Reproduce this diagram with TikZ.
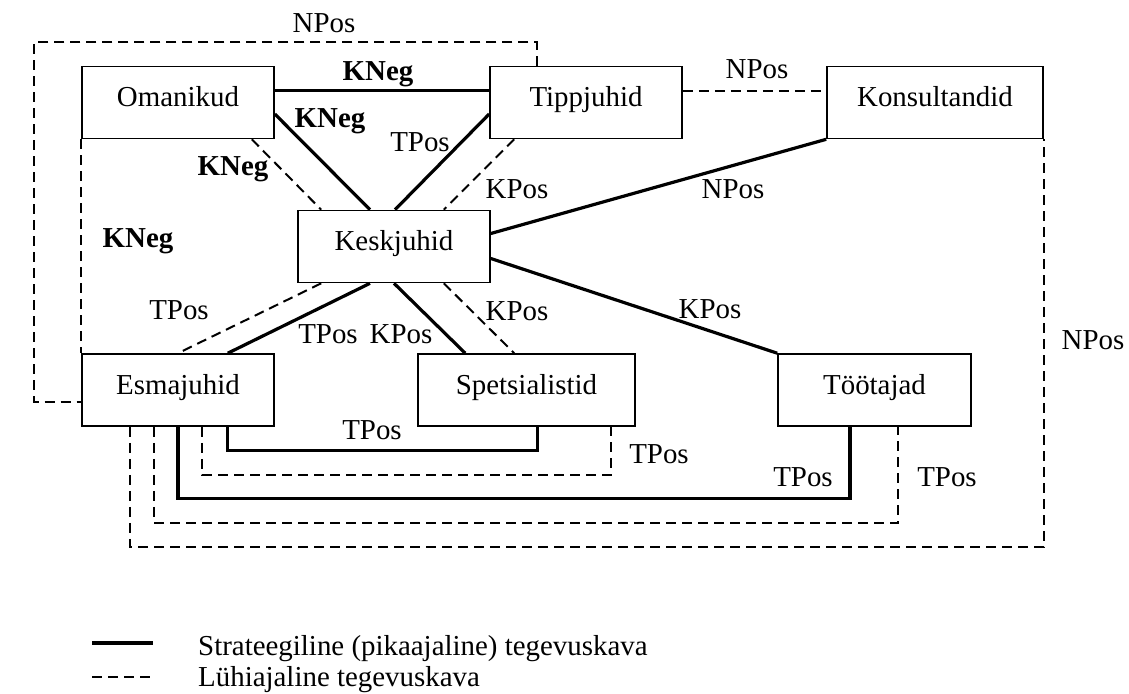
\documentclass[tikz,border=0pt]{standalone}
\usepackage{fontspec}
\setmainfont{Liberation Serif}
\usetikzlibrary{calc}
\begin{document}
\begin{tikzpicture}[x=1pt,y=-1pt,
  box/.style={draw, line width=1.6pt, inner sep=0pt, minimum height=72pt,
              text height=20pt, text depth=12pt, font=\fontsize{28.9}{32}\selectfont},
  lbl/.style={anchor=base, inner sep=0pt, font=\fontsize{28.9}{32}\selectfont},
  blbl/.style={anchor=base, inner sep=0pt, font=\fontsize{28.9}{32}\selectfont\bfseries},
  strong/.style={line width=3.2pt},
  short/.style={line width=2pt, dash pattern=on 10pt off 6pt},
]
\useasboundingbox (0,0) rectangle (1129,693);

% organisation units
\node[box, minimum width=192pt] (oman)  at (178,102.5)  {Omanikud};
\node[box, minimum width=192pt] (tipp)  at (586,102.5)  {Tippjuhid};
\node[box, minimum width=216pt] (kons)  at (935,102.5)  {Konsultandid};
\node[box, minimum width=192pt] (kesk)  at (394,246.5)  {Keskjuhid};
\node[box, minimum width=192pt] (esma)  at (178,390)    {Esmajuhid};
\node[box, minimum width=217pt] (spets) at (526.5,390)  {Spetsialistid};
\node[box, minimum width=193pt] (toot)  at (874.5,390)  {Töötajad};

% upper triangle
\draw[strong] ([yshift=12pt]oman.east) -- ([yshift=12pt]tipp.west);
\draw[strong] ([yshift=-11.5pt]oman.east) -- ([xshift=-24pt]kesk.north);
\draw[strong] ([yshift=-11.5pt]tipp.west) -- ([xshift=1pt]kesk.north);
\draw[short] ([xshift=-23pt]oman.south east) -- ([xshift=24pt]kesk.north west);
\draw[short] ([xshift=25pt]tipp.south west) -- ([xshift=-47pt]kesk.north east);
\draw[short] ([yshift=12pt]tipp.east) -- ([yshift=12pt]kons.west);

% links from the middle managers
\draw[strong] (kons.south west) -- ([yshift=13pt]kesk.east);
\draw[strong] ([yshift=-12pt]kesk.east) -- (toot.north west);
\draw[strong] ([xshift=-24pt]kesk.south) -- ([xshift=-47pt]esma.north east);
\draw[short] ([xshift=24pt]kesk.south west) -- (esma.north);
\draw[strong] (kesk.south) -- ([xshift=48pt]spets.north west);
\draw[short] ([xshift=-47pt]kesk.south east) -- ([xshift=97pt]spets.north west);

% left side loops
\draw[short] ([xshift=48pt]tipp.north west) |- (34,42.5) |- ([yshift=-11.5pt]esma.west);
\draw[short] (oman.south west) -- (esma.north west);

% nested links below the first-line managers
\draw[strong] ([xshift=-47pt]esma.south east) -- ++(0,24) -| ([xshift=120pt]spets.south west);
\draw[short] ([xshift=24pt]esma.south) -- ++(0,48) -| ([xshift=-25pt]spets.south east);
\draw[strong] (esma.south) -- ++(0,72) -| ([xshift=-24.5pt]toot.south);
\draw[short] ([xshift=-24pt]esma.south) -- ++(0,96) -| ([xshift=23.5pt]toot.south);
\draw[short] ([xshift=-48pt]esma.south) -- ++(0,120) -| (kons.south east);

% relation labels
\node[lbl]  (t1)  at (324,33)   {NPos};
\node[blbl] (t2)  at (378,80)   {KNeg};
\node[blbl] (t3)  at (330,127)  {KNeg};
\node[lbl]  (t4)  at (420,151)  {TPos};
\node[blbl] (t5)  at (233,175)  {KNeg};
\node[lbl]  (t6)  at (517,198)  {KPos};
\node[lbl]  (t7)  at (733,198)  {NPos};
\node[lbl]  (t8)  at (757,78)   {NPos};
\node[blbl] (t9)  at (138,247)  {KNeg};
\node[lbl]  (t10) at (179,319)  {TPos};
\node[lbl]  (t11) at (328,343)  {TPos};
\node[lbl]  (t12) at (401,343)  {KPos};
\node[lbl]  (t13) at (517,320)  {KPos};
\node[lbl]  (t14) at (710,318)  {KPos};
\node[lbl]  (t15) at (372,439)  {TPos};
\node[lbl]  (t16) at (659,463)  {TPos};
\node[lbl]  (t17) at (803,486)  {TPos};
\node[lbl]  (t18) at (947,486)  {TPos};
\node[lbl]  (t19) at (1093,349) {NPos};

% legend
\coordinate (l1a) at (92,643);
\coordinate (l1b) at (153,643);
\coordinate (l2a) at (92,677);
\coordinate (l2b) at (153,677);
\draw[strong] (l1a) -- (l1b);
\draw[short] (l2a) -- (l2b);
\node[lbl, anchor=base west] (leg1) at (198,655) {Strateegiline (pikaajaline) tegevuskava};
\node[lbl, anchor=base west] (leg2) at (198,686) {Lühiajaline tegevuskava};
\end{tikzpicture}
\end{document}
